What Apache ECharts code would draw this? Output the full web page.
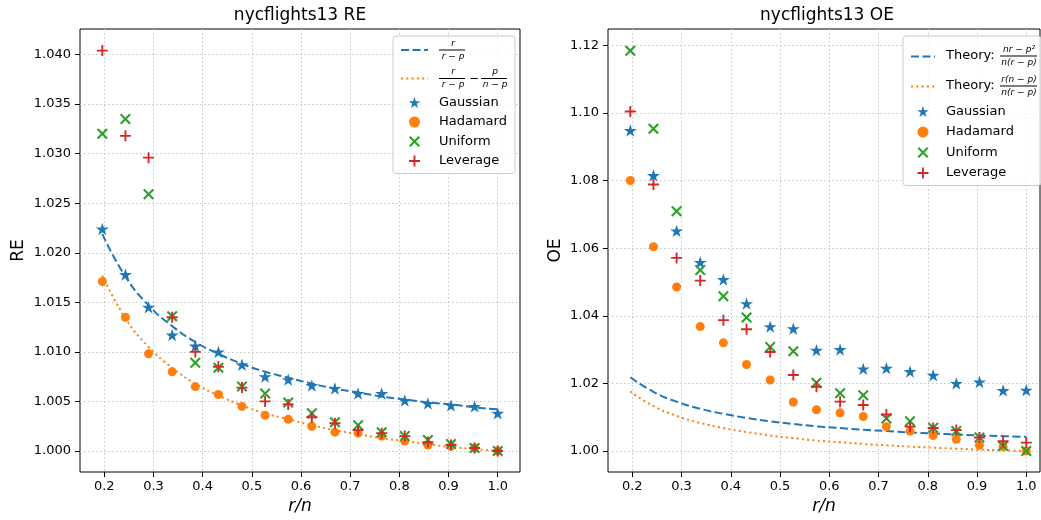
<!DOCTYPE html>
<html>
<head>
<meta charset="utf-8">
<script src="https://cdn.jsdelivr.net/npm/echarts@6/dist/echarts.min.js"></script>
<style>
  html, body { margin: 0; padding: 0; background: #fff; }
  #chart { width: 1041px; height: 520px; }
</style>
</head>
<body>
<div id="chart"></div>
<script>
// r/n positions
const ratios = [0.196, 0.243, 0.290, 0.338, 0.385, 0.432, 0.480, 0.527, 0.574, 0.622, 0.669, 0.716, 0.764, 0.811, 0.858, 0.905, 0.953, 1.000];

// RE panel
const reTheory1 = [1.0219, 1.0176, 1.0147, 1.0126, 1.0110, 1.0098, 1.0088, 1.0080, 1.0074, 1.0068, 1.0063, 1.0059, 1.0055, 1.0052, 1.0049, 1.0047, 1.0044, 1.0042];
const reTheory2 = [1.0177, 1.0134, 1.0105, 1.0084, 1.0068, 1.0056, 1.0046, 1.0038, 1.0032, 1.0026, 1.0021, 1.0017, 1.0013, 1.0010, 1.0007, 1.0004, 1.0002, 1.0000];
const reGaussian = [1.0224, 1.0178, 1.0145, 1.0117, 1.0106, 1.0100, 1.0087, 1.0075, 1.0072, 1.0066, 1.0063, 1.0058, 1.0058, 1.0051, 1.0048, 1.0046, 1.0045, 1.0038];
const reHadamard = [1.0171, 1.0135, 1.0098, 1.0080, 1.0065, 1.0057, 1.0045, 1.0036, 1.0032, 1.0025, 1.0019, 1.0018, 1.0015, 1.0010, 1.0006, 1.0005, 1.0003, 1.0000];
const reUniform = [1.0320, 1.0335, 1.0259, 1.0136, 1.0089, 1.0084, 1.0065, 1.0058, 1.0049, 1.0038, 1.0029, 1.0026, 1.0019, 1.0015, 1.0011, 1.0007, 1.0003, 1.0000];
const reLeverage = [1.0404, 1.0318, 1.0296, 1.0135, 1.0100, 1.0085, 1.0064, 1.0050, 1.0047, 1.0034, 1.0028, 1.0021, 1.0018, 1.0015, 1.0009, 1.0006, 1.0003, 1.0000];

// OE panel
const oeTheory1 = [1.0218, 1.0175, 1.0146, 1.0125, 1.0110, 1.0098, 1.0088, 1.0080, 1.0073, 1.0068, 1.0063, 1.0059, 1.0055, 1.0052, 1.0049, 1.0046, 1.0044, 1.0042];
const oeTheory2 = [1.0176, 1.0133, 1.0104, 1.0083, 1.0068, 1.0056, 1.0046, 1.0038, 1.0031, 1.0026, 1.0021, 1.0017, 1.0013, 1.0010, 1.0007, 1.0004, 1.0002, 1.0000];
const oeGaussian = [1.0948, 1.0815, 1.0651, 1.0558, 1.0507, 1.0436, 1.0368, 1.0362, 1.0298, 1.0300, 1.0243, 1.0245, 1.0235, 1.0224, 1.0200, 1.0204, 1.0179, 1.0180];
const oeHadamard = [1.0800, 1.0604, 1.0485, 1.0368, 1.0320, 1.0256, 1.0210, 1.0145, 1.0122, 1.0113, 1.0102, 1.0072, 1.0059, 1.0046, 1.0035, 1.0017, 1.0013, 1.0000];
const oeUniform = [1.1184, 1.0953, 1.0709, 1.0535, 1.0458, 1.0395, 1.0308, 1.0295, 1.0202, 1.0171, 1.0165, 1.0096, 1.0088, 1.0069, 1.0059, 1.0040, 1.0015, 1.0000];
const oeLeverage = [1.1004, 1.0788, 1.0571, 1.0504, 1.0387, 1.0360, 1.0293, 1.0225, 1.0190, 1.0146, 1.0136, 1.0108, 1.0072, 1.0068, 1.0062, 1.0040, 1.0029, 1.0025];

// tick labels
const xTicks = [0.2, 0.3, 0.4, 0.5, 0.6, 0.7, 0.8, 0.9, 1.0];
const reTicks = [1.000, 1.005, 1.010, 1.015, 1.020, 1.025, 1.030, 1.035, 1.040];
const oeTicks = [1.00, 1.02, 1.04, 1.06, 1.08, 1.10, 1.12];

const BLUE = '#1f77b4', ORANGE = '#ff7f0e', GREEN = '#2ca02c', RED = '#d62728';
const FONT = 'DejaVu Sans';
const STAR = 'path://M0,-1L0.2245,-0.309L0.951,-0.309L0.363,0.118L0.588,0.809L0,0.382L-0.588,0.809L-0.363,0.118L-0.951,-0.309L-0.2245,-0.309Z';
const PLUS = 'path://M-0.17,-1L0.17,-1L0.17,-0.17L1,-0.17L1,0.17L0.17,0.17L0.17,1L-0.17,1L-0.17,0.17L-1,0.17L-1,-0.17L-0.17,-0.17Z';
const XMARK = 'path://M-1,-0.73L-0.73,-1L0,-0.27L0.73,-1L1,-0.73L0.27,0L1,0.73L0.73,1L0,0.27L-0.73,1L-1,0.73L-0.27,0Z';

function pairs(ys) {
  return ratios.map((x, i) => [x, ys[i]]);
}

function xAxisFor(idx, min, max) {
  return {
    type: 'value', gridIndex: idx, min: min, max: max,
    name: 'r/n', nameLocation: 'middle', nameGap: 26,
    nameTextStyle: { fontFamily: FONT, fontSize: 17, fontStyle: 'italic', color: '#000' },
    axisLine: { show: false },
    axisTick: { show: true, length: 5, lineStyle: { color: '#000', width: 1 }, customValues: xTicks },
    axisLabel: { customValues: xTicks, margin: 8, fontFamily: FONT, fontSize: 13, color: '#000',
      formatter: v => v.toFixed(1) },
    splitLine: { show: true, lineStyle: { color: '#c4c4c4', width: 1, type: [1.5, 2.5] } }
  };
}

function yAxisFor(idx, min, max, ticks, digits, name, gap) {
  return {
    type: 'value', gridIndex: idx, min: min, max: max,
    name: name, nameLocation: 'middle', nameGap: gap,
    nameTextStyle: { fontFamily: FONT, fontSize: 17, color: '#000' },
    axisLine: { show: false },
    axisTick: { show: true, length: 5, lineStyle: { color: '#000', width: 1 }, customValues: ticks },
    axisLabel: { customValues: ticks, margin: 9, fontFamily: FONT, fontSize: 13, color: '#000',
      formatter: v => v.toFixed(digits) },
    splitLine: { show: true, lineStyle: { color: '#c4c4c4', width: 1, type: [1.5, 2.5] } }
  };
}

function theoryLine(name, idx, ys, color, dash) {
  return {
    name: name, type: 'line', xAxisIndex: idx, yAxisIndex: idx,
    data: pairs(ys), smooth: true, symbol: 'circle', showSymbol: false,
    lineStyle: { color: color, width: 2, type: dash },
    // transparent so the legend shows the bare line
    itemStyle: { color: 'rgba(0,0,0,0)', borderWidth: 0 }, z: 2
  };
}

function marks(name, idx, ys, symbol, size, color) {
  return {
    name: name, type: 'scatter', xAxisIndex: idx, yAxisIndex: idx,
    data: pairs(ys), symbol: symbol, symbolSize: size,
    symbolKeepAspect: true,
    itemStyle: { color: color, opacity: 1 }, z: 3
  };
}

// rich styles for the little fractions in the legends
const fr = { fontFamily: FONT, fontSize: 9, fontStyle: 'italic', color: '#000', align: 'center', lineHeight: 10 };
const rich = {
  n: Object.assign({}, fr, { width: 28 }),
  d: Object.assign({}, fr, { width: 28 }),
  b: { width: 26, height: 1, backgroundColor: '#000', lineHeight: 3, fontSize: 1 },
  g: { width: 14, fontSize: 1, lineHeight: 3 },
  m: { width: 14, fontFamily: FONT, fontSize: 12, color: '#000', align: 'center', lineHeight: 3 },
  sp: { width: 54, fontSize: 1, lineHeight: 10 },
  t: { width: 54, fontFamily: FONT, fontSize: 13, color: '#000', lineHeight: 3 },
  wn: Object.assign({}, fr, { width: 38 }),
  wd: Object.assign({}, fr, { width: 38, lineHeight: 11 }),
  wb: { width: 37, height: 1, backgroundColor: '#000', lineHeight: 3, fontSize: 1 }
};

const legendText = {
  'RE r/(r-p)': '{n|r}\n{b| }\n{d|r − p}',
  'RE diff': '{n|r}{g| }{n|p}\n{b| }{m|−}{b| }\n{d|r − p}{g| }{d|n − p}',
  'OE t1': '{sp| }{wn|nr − p²}\n{t|Theory:}{wb| }\n{sp| }{wd|n(r − p)}',
  'OE t2': '{sp| }{wn|r(n − p)}\n{t|Theory:}{wb| }\n{sp| }{wd|n(r − p)}'
};

function legendFor(left, names, iconW, textPad, padTop, padRight, gap) {
  return {
    orient: 'vertical', left: left, top: 36,
    padding: [padTop, padRight, 6, 7], itemGap: gap,
    itemWidth: iconW, itemHeight: 11,
    backgroundColor: 'rgba(255,255,255,0.8)', borderColor: '#cccccc', borderWidth: 1, borderRadius: 3,
    data: names,
    textStyle: { fontFamily: FONT, fontSize: 13, color: '#000', padding: [0, 0, 0, textPad], rich: rich },
    formatter: name => (legendText[name] || name.replace(/^(RE|OE) /, ''))
  };
}

const chart = echarts.init(document.getElementById('chart'), null, { renderer: 'canvas' });

chart.setOption({
  animation: false,
  backgroundColor: '#fff',
  title: [
    { text: 'nycflights13 RE', left: 300, top: 7, textAlign: 'center', padding: 0,
      textStyle: { fontFamily: FONT, fontSize: 17, fontWeight: 'normal', color: '#000' } },
    { text: 'nycflights13 OE', left: 827, top: 7, textAlign: 'center', padding: 0,
      textStyle: { fontFamily: FONT, fontSize: 17, fontWeight: 'normal', color: '#000' } }
  ],
  grid: [
    { left: 80, top: 29, width: 440, height: 444, show: true, borderColor: '#000', borderWidth: 1, backgroundColor: 'transparent' },
    { left: 608, top: 29, width: 432, height: 444, show: true, borderColor: '#000', borderWidth: 1, backgroundColor: 'transparent' }
  ],
  xAxis: [xAxisFor(0, 0.1506, 1.0453), xAxisFor(1, 0.1507, 1.0279)],
  yAxis: [
    yAxisFor(0, 0.99788, 1.04258, reTicks, 3, 'RE', 53),
    yAxisFor(1, 0.9938, 1.1248, oeTicks, 2, 'OE', 44)
  ],
  legend: [
    legendFor(393, ['RE r/(r-p)', 'RE diff', 'RE Gaussian', 'RE Hadamard', 'RE Uniform', 'RE Leverage'], 27, 6, 3, 6, 6.5),
    legendFor(903, ['OE t1', 'OE t2', 'OE Gaussian', 'OE Hadamard', 'OE Uniform', 'OE Leverage'], 24, 6, 9, 3, 7.5)
  ],
  series: [
    theoryLine('RE r/(r-p)', 0, reTheory1, BLUE, [8, 3.5]),
    theoryLine('RE diff', 0, reTheory2, ORANGE, [2, 3.3]),
    marks('RE Gaussian', 0, reGaussian, STAR, 13, BLUE),
    marks('RE Hadamard', 0, reHadamard, 'circle', 9, ORANGE),
    marks('RE Uniform', 0, reUniform, XMARK, 11, GREEN),
    marks('RE Leverage', 0, reLeverage, PLUS, 11, RED),
    theoryLine('OE t1', 1, oeTheory1, BLUE, [8, 3.5]),
    theoryLine('OE t2', 1, oeTheory2, ORANGE, [2, 3.3]),
    marks('OE Gaussian', 1, oeGaussian, STAR, 13, BLUE),
    marks('OE Hadamard', 1, oeHadamard, 'circle', 9, ORANGE),
    marks('OE Uniform', 1, oeUniform, XMARK, 11, GREEN),
    marks('OE Leverage', 1, oeLeverage, PLUS, 11, RED)
  ]
});
</script>
</body>
</html>
